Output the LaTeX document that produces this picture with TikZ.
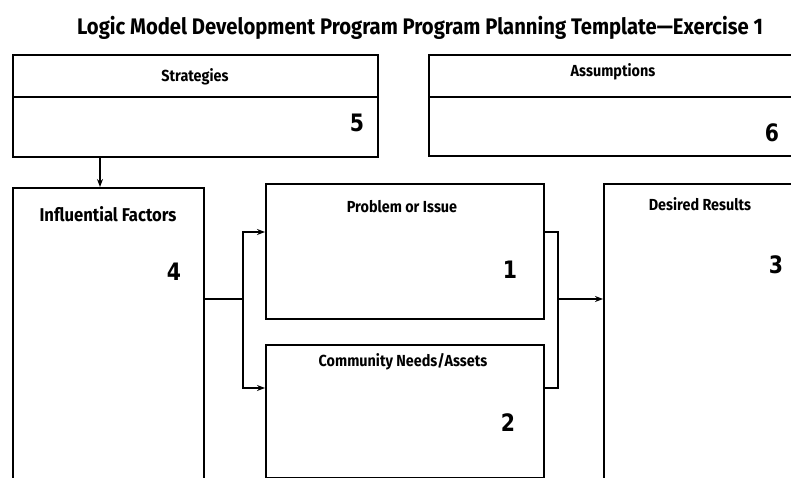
\documentclass[tikz,border=0pt]{standalone}
\usepackage{fontspec}
\newfontfamily\condfont{Fira Sans}[FakeStretch=0.9]
\newfontfamily\numfont{DejaVu Sans}[FakeStretch=0.85]
\usetikzlibrary{positioning, arrows.meta}

\tikzset{
  box/.style={draw, line width=1.8pt, anchor=north west, inner sep=0pt},
  boxlabel/.style={font=\condfont\bfseries\fontsize{16}{18}\selectfont, inner sep=0pt},
  boxnum/.style={font=\numfont\bfseries\fontsize{24}{28}\selectfont, inner sep=0pt},
  link/.style={line width=1.6pt},
  arr/.style={link, -{Stealth[length=8pt,width=6pt]}}
}

\begin{document}
\begin{tikzpicture}[x=1pt,y=-1pt]
\useasboundingbox (0,0) rectangle (791,478);
\clip (0,0) rectangle (791,478);

% title
\node[font=\condfont\bfseries\fontsize{22.5}{26}\selectfont, inner sep=0pt] (title) at (420,28)
  {Logic Model Development Program Program Planning Template—Exercise 1};

% boxes
\node[box, minimum width=365pt, minimum height=102pt] (strat) at (12,54) {};
\node[box, minimum width=380pt, minimum height=101pt] (assum) at (428,54) {};
\node[box, minimum width=191pt, minimum height=310pt] (infl) at (12,187) {};
\node[box, minimum width=278pt, minimum height=135pt] (prob) at (265,183) {};
\node[box, minimum width=278pt, minimum height=133pt] (comm) at (265,344) {};
\node[box, minimum width=220pt, minimum height=310pt] (des) at (603,183) {};

% header dividers
\draw[link, line width=1.8pt] ([yshift=-43pt]strat.north west) -- ([yshift=-43pt]strat.north east);
\draw[link, line width=1.8pt] ([yshift=-43pt]assum.north west) -- ([yshift=-43pt]assum.north east);

% labels
\node[boxlabel] (stratlbl) at (195,77) {Strategies};
\node[boxnum] (stratnum) at (357,123) {5};
\node[boxlabel] (assumlbl) at (613,72) {Assumptions};
\node[boxnum] (assumnum) at (772,133) {6};
\node[boxlabel, font=\condfont\bfseries\fontsize{18.5}{20}\selectfont] (infllbl) at (108,214) {Influential Factors};
\node[boxnum] (inflnum) at (174,272) {4};
\node[boxlabel] (problbl) at (402,207) {Problem or Issue};
\node[boxnum] (probnum) at (510,270) {1};
\node[boxlabel] (commlbl) at (403,362) {Community Needs/Assets};
\node[boxnum] (commnum) at (508,423) {2};
\node[boxlabel] (deslbl) at (700,204) {Desired Results};
\node[boxnum] (desnum) at (776,265) {3};

% connectors
\coordinate (split) at (243,299);
\coordinate (probin) at (243,232);
\coordinate (commin) at (243,388);
\coordinate (join) at (558,299);

\draw[arr] (strat.south -| 100,0) -- (infl.north -| 100,0);
\draw[link] (split -| infl.east) -- (split);
\draw[arr] (split) -- (probin) -- (probin -| prob.west);
\draw[arr] (split) -- (commin) -- (commin -| comm.west);
\draw[link] (probin -| prob.east) -| (join) |- (commin -| comm.east);
\draw[arr] (join) -- (join -| des.west);
\end{tikzpicture}
\end{document}
